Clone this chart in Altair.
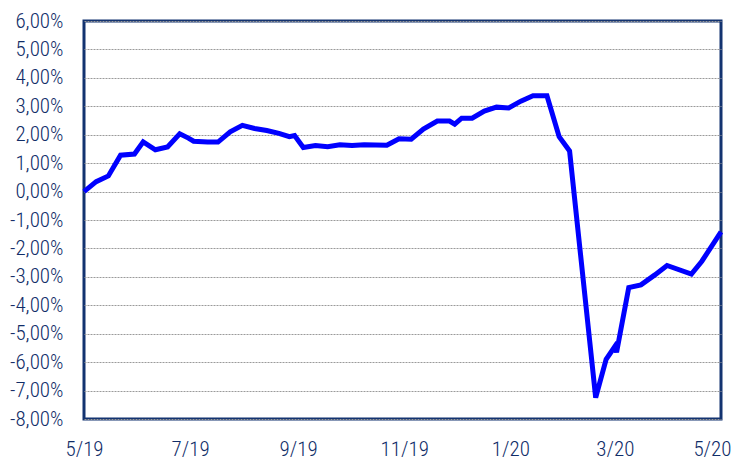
import altair as alt
import pandas as pd

dates = [
    "2019-05-01", "2019-05-08", "2019-05-15", "2019-05-22", "2019-05-30",
    "2019-06-04", "2019-06-11", "2019-06-18", "2019-06-25", "2019-06-30",
    "2019-07-03", "2019-07-11", "2019-07-17", "2019-07-24", "2019-07-31",
    "2019-08-07", "2019-08-14", "2019-08-21", "2019-08-27", "2019-08-30",
    "2019-09-04", "2019-09-11", "2019-09-18", "2019-09-25", "2019-10-02",
    "2019-10-09", "2019-10-22", "2019-10-29", "2019-11-05", "2019-11-12",
    "2019-11-20", "2019-11-27", "2019-11-30", "2019-12-04", "2019-12-10",
    "2019-12-17", "2019-12-24", "2019-12-31", "2020-01-07", "2020-01-14",
    "2020-01-22", "2020-01-29", "2020-02-04", "2020-02-19", "2020-02-25",
    "2020-03-01", "2020-03-02", "2020-03-09", "2020-03-16", "2020-03-24",
    "2020-03-31", "2020-04-14", "2020-04-20", "2020-05-01",
]
values = [
    0.00, 0.35, 0.55, 1.28, 1.32,
    1.75, 1.47, 1.57, 2.03, 1.88,
    1.77, 1.74, 1.74, 2.10, 2.33,
    2.22, 2.15, 2.05, 1.93, 1.97,
    1.55, 1.62, 1.58, 1.65, 1.62,
    1.65, 1.63, 1.86, 1.84, 2.20,
    2.48, 2.48, 2.37, 2.58, 2.58,
    2.83, 2.97, 2.94, 3.18, 3.37,
    3.37, 1.93, 1.43, -7.25, -5.90,
    -5.45, -5.65, -3.38, -3.28, -2.93,
    -2.60, -2.90, -2.45, -1.42,
]
x_ticks = [(2019, 5), (2019, 7), (2019, 9), (2019, 11), (2020, 1), (2020, 3), (2020, 5)]
y_ticks = list(range(-8, 7))

df = pd.DataFrame({"date": dates, "value": values})

NAVY = "#133370"
LABEL = "#102D68"
FONT = "Roboto Condensed Light"
LAST = "datum.value > utc(2020, 3, 1)"

x_axis = alt.Axis(
    values=[alt.DateTime(year=y, month=m, date=1, utc=True) for y, m in x_ticks],
    labelExpr="utcFormat(datum.value, '%-m/%y')",
    title=None, grid=False, domain=False, ticks=False,
    labelFont=FONT, labelFontSize=21, labelColor=LABEL, labelPadding=19,
    labelFlush=False, labelOverlap=False,
    labelAlign={"condition": {"test": LAST, "value": "right"}, "value": "center"},
    labelOffset={"condition": {"test": LAST, "value": 10}, "value": 0},
)
y_axis = alt.Axis(
    values=y_ticks,
    labelExpr="(datum.value < 0 ? '-' : '') + replace(format(abs(datum.value), '.2f'), '.', ',') + '%'",
    title=None, grid=True, gridColor="#9A9A9A", gridDash=[2, 1], gridWidth=1,
    domain=False, ticks=False,
    labelFont=FONT, labelFontSize=21, labelColor=LABEL, labelPadding=21,
    labelOverlap=False, labelFlush=False,
)

chart = alt.Chart(df).mark_line(color="#0000FF", strokeWidth=5).encode(
    x=alt.X("date:T", axis=x_axis, scale=alt.Scale(
        type="utc",
        domain=[alt.DateTime(year=2019, month=5, date=1, utc=True),
                alt.DateTime(year=2020, month=5, date=1, utc=True)])),
    y=alt.Y("value:Q", axis=y_axis, scale=alt.Scale(domain=[-8, 6], nice=False, zero=False)),
).properties(
    width=637, height=398,
    autosize=alt.AutoSizeParams(type="none"),
    padding={"left": 76, "top": 13, "right": 10, "bottom": 40},
).configure_view(
    stroke=NAVY, strokeWidth=3,
)

chart.save("out.html", embed_options={"renderer": "svg", "actions": False})
